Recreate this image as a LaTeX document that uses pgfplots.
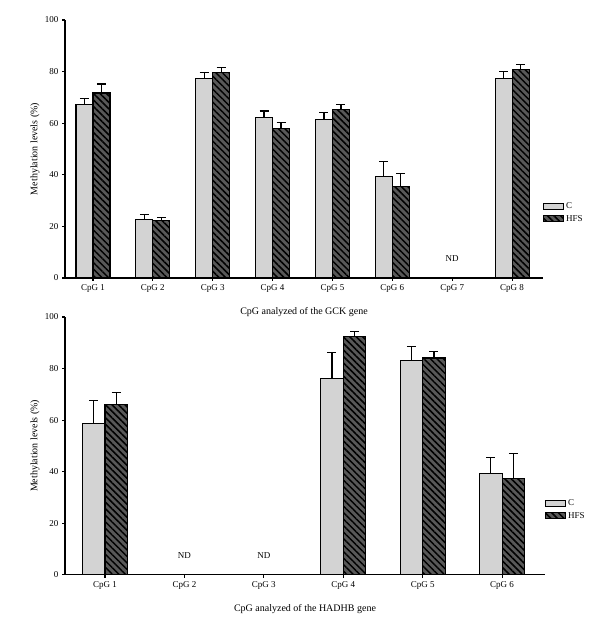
\documentclass[border=0pt]{standalone}
\usepackage{fontspec}
\setmainfont{Liberation Serif}
\usepackage{pgfplots}
\pgfplotsset{compat=1.18}
\usetikzlibrary{patterns.meta}

\definecolor{cgray}{RGB}{211,211,211}
\definecolor{hgray}{RGB}{88,88,88}

\pgfplotsset{
  mybar/.style={
    ybar=0pt, bar width=0.284, scale only axis,
    ymin=0, ymax=100, ytick={0,20,...,100},
    axis lines*=left, axis line style={-, line width=1.2pt},
    tick style={black, line width=1.1pt}, tick align=outside, major tick length=3pt,
    /pgf/number format/assume math mode=true,
    tick label style={font=\fontsize{9}{10}\selectfont},
    label style={font=\fontsize{9}{11}\selectfont},
    every axis x label/.style={at={(rel axis cs:0.5,0)}, anchor=center, yshift=-34pt},
    every axis y label/.style={at={(rel axis cs:0,0.5)}, xshift=-30pt, rotate=90, anchor=center},
    ylabel={Methylation levels (\%)},
    legend style={at={(rel axis cs:1,0.30)}, anchor=north west, draw=none, fill=none,
      font=\fontsize{9}{11}\selectfont, row sep=1pt, inner sep=0pt, legend cell align=left},
    area legend,
    legend image code/.code={\draw[#1, line width=1pt] (0pt,-3pt) rectangle (20pt,3pt);},
    error bars/y dir=plus, error bars/y explicit,
    error bars/error bar style={black, line width=1.2pt},
    error bars/error mark options={black, line width=1.2pt, mark size=4.5pt, rotate=90},
  },
  cbar/.style={draw=black, line width=1.1pt, fill=cgray},
  hbar/.style={draw=black, line width=1.1pt, fill=hgray,
    postaction={pattern={Lines[angle=-45,distance=4.6pt,line width=1.5pt]}, pattern color=black}},
}

\begin{document}
\begin{tikzpicture}
\useasboundingbox (0,0) rectangle (600pt,631pt);

\begin{axis}[mybar, at={(65pt,353pt)}, anchor=south west, width=478pt, height=258pt,
  xmin=-0.467, xmax=7.517, xtick={0,...,7},
  xticklabels={CpG 1,CpG 2,CpG 3,CpG 4,CpG 5,CpG 6,CpG 7,CpG 8},
  xlabel={CpG analyzed of the GCK gene}]
\addplot[cbar] coordinates {(0,67.4)+-(0,2.1) (1,22.5)+-(0,2.2) (2,77.3)+-(0,2.4) (3,62.3)+-(0,2.4) (4,61.6)+-(0,2.5) (5,39.3)+-(0,5.9) (7,77.3)+-(0,2.7)};
\addlegendentry{C}
\addplot[hbar] coordinates {(0,71.7)+-(0,3.5) (1,22.2)+-(0,1.3) (2,79.7)+-(0,1.8) (3,58.1)+-(0,2.2) (4,65.2)+-(0,1.9) (5,35.3)+-(0,5.1) (7,80.7)+-(0,2.1)};
\addlegendentry{HFS}
\node[font=\fontsize{9}{10}\selectfont] at (axis cs:6,7.7) {ND};
\end{axis}

\begin{axis}[mybar, at={(65pt,56.3pt)}, anchor=south west, width=480pt, height=257.7pt,
  xmin=-0.503, xmax=5.54, xtick={0,...,5},
  xticklabels={CpG 1,CpG 2,CpG 3,CpG 4,CpG 5,CpG 6},
  xlabel={CpG analyzed of the HADHB gene}]
\addplot[cbar] coordinates {(0,58.8)+-(0,8.7) (3,76.1)+-(0,10.2) (4,83.2)+-(0,5.3) (5,39.3)+-(0,6.1)};
\addlegendentry{C}
\addplot[hbar] coordinates {(0,66.0)+-(0,4.8) (3,92.4)+-(0,1.9) (4,84.1)+-(0,2.6) (5,37.4)+-(0,9.6)};
\addlegendentry{HFS}
\node[font=\fontsize{9}{10}\selectfont] at (axis cs:1,7.4) {ND};
\node[font=\fontsize{9}{10}\selectfont] at (axis cs:2,7.4) {ND};
\end{axis}
\end{tikzpicture}
\end{document}
